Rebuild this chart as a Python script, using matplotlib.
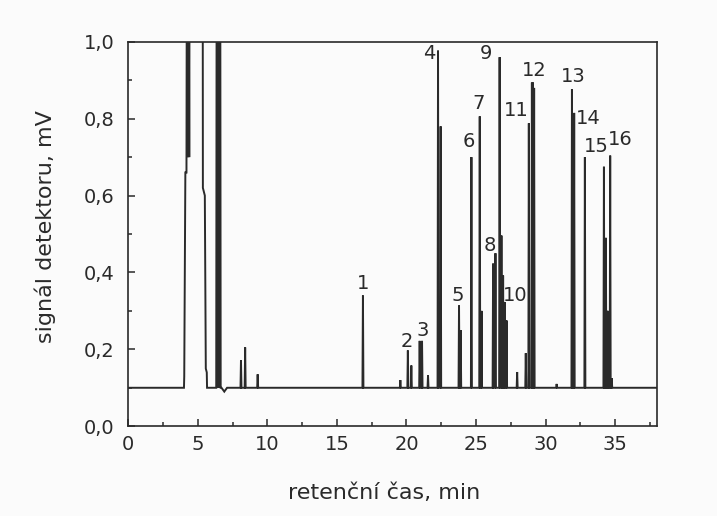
import matplotlib
matplotlib.use('Agg')
import matplotlib.pyplot as plt
from matplotlib.ticker import MultipleLocator, FuncFormatter

plt.rcParams['font.family'] = ['DejaVu Sans']

# ── data ──────────────────────────────────────────────────────────────────────
baseline = 0.1

# solvent region (off-scale peaks drawn as explicit trace points)
solvent_t = [0.0, 4.00, 4.02, 4.10, 4.18, 4.22, 4.28, 4.32, 4.38, 4.42, 4.47,
             5.34, 5.36, 5.50, 5.57, 5.64, 5.66,
             6.32, 6.36, 6.40, 6.44, 6.48, 6.52, 6.56, 6.60, 6.64, 6.70, 6.90, 7.10]
solvent_s = [0.10, 0.10, 0.13, 0.66, 0.66, 1.60, 0.70, 1.60, 0.70, 1.60, 1.60,
             1.60, 0.62, 0.60, 0.15, 0.14, 0.10,
             0.10, 1.60, 0.10, 1.60, 0.10, 1.60, 0.10, 1.60, 0.10, 0.10, 0.09, 0.10]

# narrow peaks: retention time (min) and apex height (mV)
peak_rt = [8.10, 8.40, 9.30, 16.87, 19.56, 20.10, 20.35, 20.95, 21.12, 21.55,
           22.27, 22.46, 23.78, 23.90, 24.67, 25.27, 25.40, 26.23, 26.40, 26.70,
           26.83, 26.95, 27.07, 27.20, 27.96, 28.58, 28.80, 29.02, 29.10, 29.18,
           30.80, 31.90, 32.06, 32.83, 34.20, 34.34, 34.42, 34.50, 34.65, 34.76]
peak_h = [0.171, 0.205, 0.135, 0.340, 0.120, 0.197, 0.158, 0.222, 0.222, 0.132,
          0.977, 0.780, 0.314, 0.250, 0.700, 0.806, 0.300, 0.423, 0.450, 0.960,
          0.496, 0.392, 0.323, 0.275, 0.141, 0.190, 0.788, 0.894, 0.894, 0.880,
          0.110, 0.877, 0.815, 0.700, 0.675, 0.490, 0.300, 0.300, 0.704, 0.125]

# peak numbers and label positions
label_txt = [str(i) for i in range(1, 17)]
label_x = [16.9, 20.0, 21.15, 21.67, 23.7, 24.5, 25.2, 26.0, 25.75, 27.8, 27.9,
           29.16, 32.0, 33.07, 33.67, 35.4]
label_y = [0.37, 0.22, 0.25, 0.97, 0.34, 0.74, 0.84, 0.47, 0.97, 0.34, 0.82,
           0.925, 0.91, 0.80, 0.727, 0.745]

# ── build trace ───────────────────────────────────────────────────────────────
w = 0.035
trace_t = list(solvent_t)
trace_s = list(solvent_s)
for t, h in zip(peak_rt, peak_h):
    trace_t += [t - w, t, t + w]
    trace_s += [baseline, h, baseline]
trace_t.append(38.0)
trace_s.append(baseline)

ink = '#2a2a2a'
fig = plt.figure(figsize=(7.17, 5.16), dpi=100)
fig.patch.set_facecolor('#fbfbfb')
ax = fig.add_axes([0.179, 0.174, 0.737, 0.745])
ax.set_facecolor('#fbfbfb')

ax.plot(trace_t, trace_s, color=ink, linewidth=1.4, solid_joinstyle='miter')

for s, x, y in zip(label_txt, label_x, label_y):
    ax.text(x, y, s, ha='center', va='center', fontsize=14, color=ink)

ax.set_xlim(0, 38)
ax.set_ylim(0, 1.0)
ax.xaxis.set_major_locator(MultipleLocator(5))
ax.xaxis.set_minor_locator(MultipleLocator(2.5))
ax.yaxis.set_major_locator(MultipleLocator(0.2))
ax.yaxis.set_minor_locator(MultipleLocator(0.1))
ax.yaxis.set_major_formatter(FuncFormatter(lambda v, p: f'{v:.1f}'.replace('.', ',')))
ax.tick_params(which='both', direction='in', top=False, right=False,
               colors=ink, labelsize=14, width=1.1)
ax.tick_params(which='major', length=5)
ax.tick_params(which='minor', length=3)
ax.tick_params(axis='y', pad=10)
ax.tick_params(axis='x', pad=6)
for sp in ax.spines.values():
    sp.set_color(ink)
    sp.set_linewidth(1.2)

ax.set_xlabel('retenční čas, min', fontsize=16, color=ink)
ax.set_ylabel('signál detektoru, mV', fontsize=16, color=ink)
ax.xaxis.label.set_va('center')
ax.yaxis.label.set_va('center')
ax.xaxis.set_label_coords(0.484, -0.174)
ax.yaxis.set_label_coords(-0.158, 0.52)

plt.savefig('out.png', dpi=100, facecolor=fig.get_facecolor())
